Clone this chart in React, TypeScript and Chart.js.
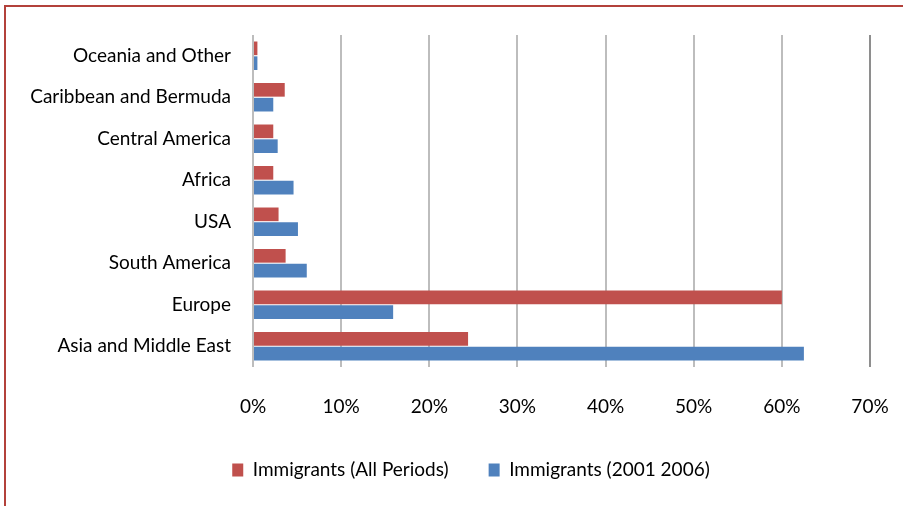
import React, { useEffect, useRef } from "react";
import { Chart, registerables } from "chart.js";

Chart.register(...registerables);

const categories = [
  "Oceania and Other",
  "Caribbean and Bermuda",
  "Central America",
  "Africa",
  "USA",
  "South America",
  "Europe",
  "Asia and Middle East",
];
const seriesLabels = ["Immigrants (All Periods)", "Immigrants (2001 2006)"];
const allPeriods = [0.5, 3.6, 2.3, 2.3, 2.9, 3.7, 60.0, 24.4];
const recent = [0.5, 2.3, 2.8, 4.6, 5.1, 6.1, 15.9, 62.5];
const xTickValues = [0, 10, 20, 30, 40, 50, 60, 70];

const RED = "#c0504d";
const BLUE = "#4f81bd";
const FONT = '"Lato", "Liberation Sans", sans-serif';

const legendShift = {
  id: "legendShift",
  afterLayout(chart: any) {
    const lg = chart.legend;
    if (lg) {
      lg.left += 31;
      lg.right += 31;
    }
  },
};

export default function App() {
  const ref = useRef<HTMLCanvasElement | null>(null);

  useEffect(() => {
    if (!ref.current) return;
    const chart = new Chart(ref.current, {
      type: "bar",
      data: {
        labels: categories,
        datasets: [
          {
            label: seriesLabels[0],
            data: allPeriods,
            backgroundColor: RED,
            categoryPercentage: 0.715,
            barPercentage: 0.92,
          },
          {
            label: seriesLabels[1],
            data: recent,
            backgroundColor: BLUE,
            categoryPercentage: 0.715,
            barPercentage: 0.92,
          },
        ],
      },
      plugins: [legendShift],
      options: {
        indexAxis: "y",
        responsive: false,
        animation: false,
        layout: { padding: { left: 10, right: 33, top: 35, bottom: 16.5 } },
        scales: {
          x: {
            min: 0,
            max: 70,
            afterBuildTicks: (scale: any) => {
              scale.ticks = xTickValues.map((v) => ({ value: v }));
            },
            afterFit: (scale: any) => {
              scale.paddingLeft = 0;
              scale.paddingRight = 0;
              scale.height = 53.5;
            },
            ticks: {
              padding: 28,
              color: "#000",
              font: { family: FONT, size: 19 },
              callback: (v: any) => v + "%",
            },
            grid: {
              drawTicks: false,
              lineWidth: 2,
              color: (ctx: any) => (ctx.index === xTickValues.length - 1 ? "#8e8e8e" : "#bdbdbd"),
            },
            border: { display: false },
          },
          y: {
            afterFit: (scale: any) => {
              scale.width = 243;
            },
            ticks: {
              padding: 22,
              color: "#000",
              font: { family: FONT, size: 19 },
            },
            grid: { display: false, drawTicks: false },
            border: { display: false },
          },
        },
        plugins: {
          legend: {
            position: "bottom",
            labels: {
              boxWidth: 11,
              boxHeight: 13,
              padding: 40,
              color: "#000",
              font: { family: FONT, size: 19 },
            },
          },
          tooltip: { enabled: false },
        },
      },
    });
    return () => chart.destroy();
  }, []);

  return (
    <div style={{ position: "fixed", left: 0, top: 0, width: 903, height: 506, background: "#fff", overflow: "hidden" }}>
      <div
        style={{
          position: "absolute",
          left: 4,
          top: 5,
          width: 903,
          height: 506,
          borderTop: "2px solid #b3413b",
          borderLeft: "2px solid #b3413b",
        }}
      />
      <canvas ref={ref} width={903} height={506} style={{ position: "absolute", left: 0, top: 0 }} />
    </div>
  );
}
